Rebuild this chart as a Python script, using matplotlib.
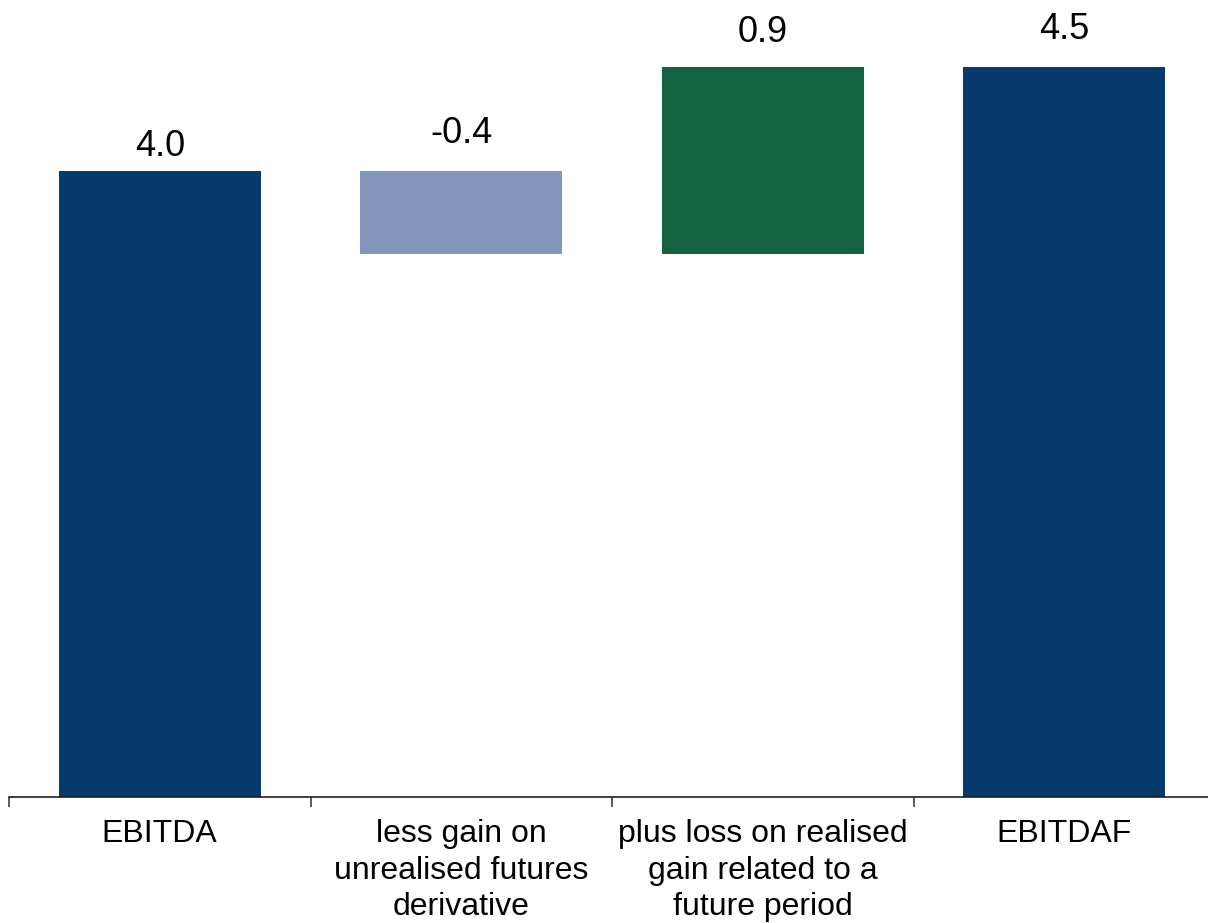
import matplotlib.pyplot as plt

plt.rcParams['font.family'] = ['Liberation Sans', 'DejaVu Sans']

categories = ['EBITDA', 'less gain on\nunrealised futures\nderivative',
              'plus loss on realised\ngain related to a\nfuture period', 'EBITDAF']
start_value = 4.0
changes = [-0.4, 0.9]
end_value = 4.5
labels = ['4.0', '-0.4', '0.9', '4.5']

colors = ['#063a6c', '#8496b9', '#136242', '#063a6c']
label_pad = [5, 14, 12, 14]

fig = plt.figure(figsize=(12.08, 9.23), dpi=100)
ax = fig.add_axes([9 / 1208, 126 / 923, 1206 / 1208, 797 / 923])

# waterfall: both middle bars hang from the level after the drop
bottoms = [0]
heights = [start_value]
level = start_value
for c in changes:
    if c < 0:
        level += c
        bottoms.append(level)
        heights.append(-c)
    else:
        bottoms.append(level)
        heights.append(c)
        level += c
bottoms.append(0)
heights.append(end_value)

x = list(range(len(categories)))
ax.bar(x, heights, bottom=bottoms, width=0.67, color=colors)

tops = [b + h for b, h in zip(bottoms, heights)]
for i in range(len(x)):
    ax.annotate(labels[i], (x[i], tops[i]), xytext=(0, label_pad[i]),
                textcoords='offset points', ha='center', va='bottom', fontsize=26)

ax.set_xlim(-0.5, 3.5)
ax.set_ylim(0.99, 4.82)
ax.set_yticks([])
ax.set_xticks([-0.5, 0.5, 1.5, 2.5])
ax.set_xticklabels([])
ax.tick_params(axis='x', which='major', length=7, width=1.2, color='#404040', direction='out')
ax.set_xticks(x, minor=True)
ax.set_xticklabels(categories, minor=True, fontsize=23, linespacing=1.28)
ax.tick_params(axis='x', which='minor', length=0, pad=16)

for side in ['top', 'right', 'left']:
    ax.spines[side].set_visible(False)
ax.spines['bottom'].set_linewidth(1.2)
ax.spines['bottom'].set_color('#202020')

plt.savefig('out.png', dpi=100)
